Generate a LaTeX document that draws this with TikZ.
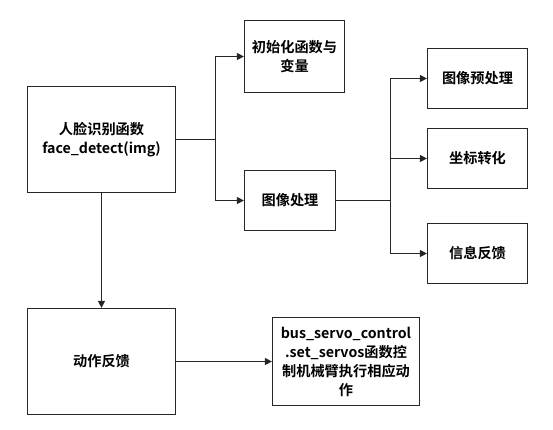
\documentclass[tikz,border=0pt]{standalone}
\usepackage{fontspec}
\setmainfont{Noto Sans CJK SC}[BoldFont=* Bold]
\usetikzlibrary{arrows.meta}

\tikzset{
  kasten/.style={draw=black!85, line width=1.2pt, align=center, inner sep=2pt,
    font=\fontsize{14.2}{19}\selectfont\bfseries},
  linie/.style={draw=black!85, line width=1.2pt},
  pfeil/.style={linie, -{Triangle[length=7pt,width=7pt]}}
}

\begin{document}
\begin{tikzpicture}[x=1pt,y=-1pt]
  \useasboundingbox (0,0) rectangle (553,429);

  % Kaesten
  \node[kasten, minimum width=148pt, minimum height=106pt] (face) at (101.5,139.5) {人脸识别函数\\face\_detect(img)};
  \node[kasten, minimum width=100pt, minimum height=72pt] (init) at (294.5,56.5) {初始化函数与\\变量};
  \node[kasten, minimum width=91pt, minimum height=60pt] (bild) at (290,200.5) {图像处理};
  \node[kasten, minimum width=100pt, minimum height=60pt] (vorv) at (477.5,78.5) {图像预处理};
  \node[kasten, minimum width=100pt, minimum height=60pt] (koord) at (477.5,158.5) {坐标转化};
  \node[kasten, minimum width=100pt, minimum height=60pt] (info) at (477.5,253.5) {信息反馈};
  \node[kasten, minimum width=148pt, minimum height=106pt] (aktion) at (101.5,361.5) {动作反馈};
  \node[kasten, minimum width=147pt, minimum height=88pt] (servo) at (346,361.5) {bus\_servo\_control\\.set\_servos函数控\\制机械臂执行相应动\\作};

  % Verzweigungspunkte
  \coordinate (z1) at (215.5,139.5);
  \coordinate (z2) at (390.5,200.5);

  % Verbindungen
  \draw[linie] (face.east) -- (z1);
  \draw[pfeil] (z1) |- (init.west);
  \draw[pfeil] (z1) |- (bild.west);
  \draw[linie] (bild.east) -- (z2);
  \draw[pfeil] (z2) |- (vorv.west);
  \draw[pfeil] (z2) |- (koord.west);
  \draw[pfeil] (z2) |- (info.west);
  \draw[pfeil] (face.south) -- (aktion.north);
  \draw[pfeil] (aktion.east) -- (servo.west);
\end{tikzpicture}
\end{document}
